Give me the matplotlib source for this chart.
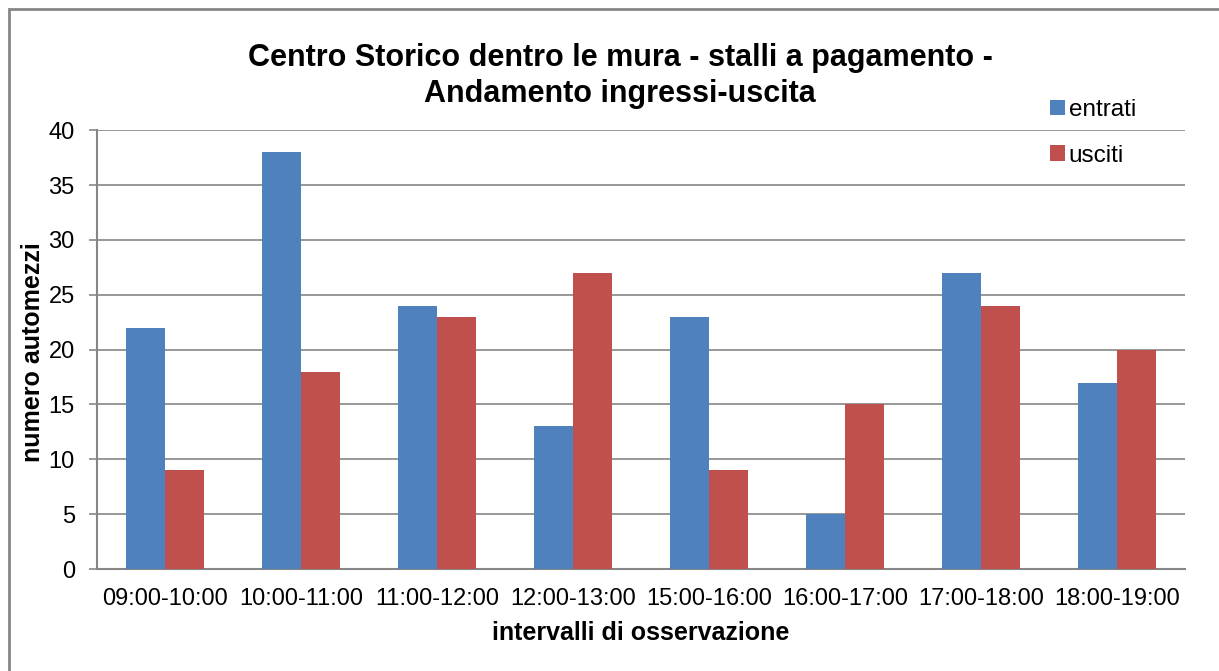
import numpy as np
import matplotlib.pyplot as plt
from matplotlib.patches import Rectangle

plt.rcParams['font.family'] = ['Liberation Sans', 'DejaVu Sans']

# data
intervalli = ["09:00-10:00", "10:00-11:00", "11:00-12:00", "12:00-13:00",
              "15:00-16:00", "16:00-17:00", "17:00-18:00", "18:00-19:00"]
entrati = [22, 38, 24, 13, 23, 5, 27, 17]
usciti = [9, 18, 23, 27, 9, 15, 24, 20]

fig = plt.figure(figsize=(12.19, 6.71), dpi=100)
ax = fig.add_axes([0.0796, 0.152, 0.8924, 0.654])

x = np.arange(len(intervalli))
w = 0.286
ax.bar(x - w / 2, entrati, w, color="#4F81BD", label="entrati", zorder=3)
ax.bar(x + w / 2, usciti, w, color="#C0504D", label="usciti", zorder=3)

ax.set_xlim(-0.5, len(intervalli) - 0.5)
ax.set_ylim(0, 40)
ax.set_yticks(range(0, 41, 5))
ax.set_xticks(x)
ax.set_xticklabels(intervalli)
ax.grid(axis="y", color="#868686", linewidth=1.2, zorder=0)
ax.tick_params(axis="y", length=6, width=1.2, color="#868686", labelsize=17, pad=10)
ax.tick_params(axis="x", length=0, labelsize=17, pad=14)
for s in ["top", "right"]:
    ax.spines[s].set_visible(False)
for s in ["left", "bottom"]:
    ax.spines[s].set_color("#868686")
    ax.spines[s].set_linewidth(1.5)

# axis titles placed like the original
fig.text(641 / 1219, 1 - 633 / 671, "intervalli di osservazione", fontsize=18,
         fontweight="bold", ha="center", va="center")
fig.text(33 / 1219, 1 - 352 / 671, "numero automezzi", fontsize=18,
         fontweight="bold", rotation=90, ha="center", va="center")

fig.text(620 / 1219, 1 - 76 / 671,
         "Centro Storico dentro le mura - stalli a pagamento -\nAndamento ingressi-uscita",
         fontsize=22, fontweight="bold", ha="center", va="center", linespacing=1.22)

fig.legend(loc="upper left", bbox_to_anchor=(1050 / 1219, 1 - 99 / 671), frameon=False,
           fontsize=17.5, handlelength=0.62, handleheight=0.62, handletextpad=0.15,
           labelspacing=0.97, borderpad=0, borderaxespad=0)

# outer chart frame
fig.patches.append(Rectangle((0.0074, -0.05), 1.1, 1.037, transform=fig.transFigure,
                             fill=False, edgecolor="#868686", linewidth=2))

fig.savefig("out.png", dpi=100)
